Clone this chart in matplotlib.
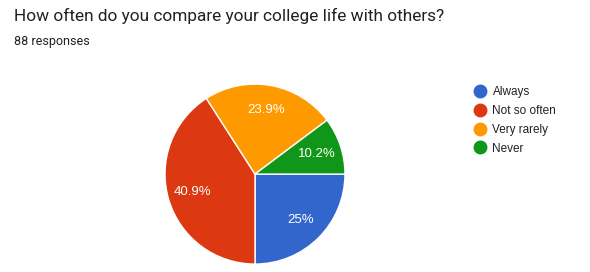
import matplotlib
matplotlib.use("Agg")
import matplotlib.pyplot as plt
from matplotlib.lines import Line2D
import numpy as np

# survey answers
categories = ["Always", "Not so often", "Very rarely", "Never"]
counts = [22, 36, 21, 9]
pct_labels = ["25%", "40.9%", "23.9%", "10.2%"]
colors = ["#3366cc", "#dc3912", "#ff9900", "#109618"]

title = "How often do you compare your college life with others?"
subtitle = "88 responses"

fig = plt.figure(figsize=(5.9, 2.72), dpi=100)

fig.text(14 / 590, 1 - 16 / 272, title, fontsize=12.4, family="Roboto",
         color="#202124", va="center", ha="left")
fig.text(14 / 590, 1 - 42 / 272, subtitle, fontsize=9, family="Roboto",
         color="#202124", va="center", ha="left")

ax = fig.add_axes([0.2797, 0.029, 0.305, 0.662])
wedges, texts = ax.pie(counts, colors=colors, startangle=0, counterclock=False,
                       wedgeprops=dict(edgecolor="white", linewidth=1))
ax.set_xlim(-1.0, 1.0)
ax.set_ylim(-1.0, 1.0)
ax.set_aspect("equal")

# percentage labels inside slices
total = sum(counts)
angle = 0.0
for c, lab in zip(counts, pct_labels):
    mid = angle - 360 * c / total / 2
    angle -= 360 * c / total
    r = 0.72
    x = r * np.cos(np.radians(mid))
    y = r * np.sin(np.radians(mid))
    ax.text(x, y, lab, ha="center", va="center", color="white",
            fontsize=9.5, family="Liberation Sans")

handles = [Line2D([0], [0], marker="o", linestyle="", markersize=9,
                  markerfacecolor=col, markeredgecolor=col) for col in colors]
leg = fig.legend(handles, categories, loc="upper left",
                 bbox_to_anchor=(473 / 590, 1 - 86 / 272), frameon=False,
                 prop={"family": "Liberation Sans", "size": 8.5},
                 handletextpad=0.45, labelspacing=0.58, handlelength=1.2,
                 borderpad=0, borderaxespad=0)
for t in leg.get_texts():
    t.set_color("#222222")

fig.savefig("out.png", dpi=100)
